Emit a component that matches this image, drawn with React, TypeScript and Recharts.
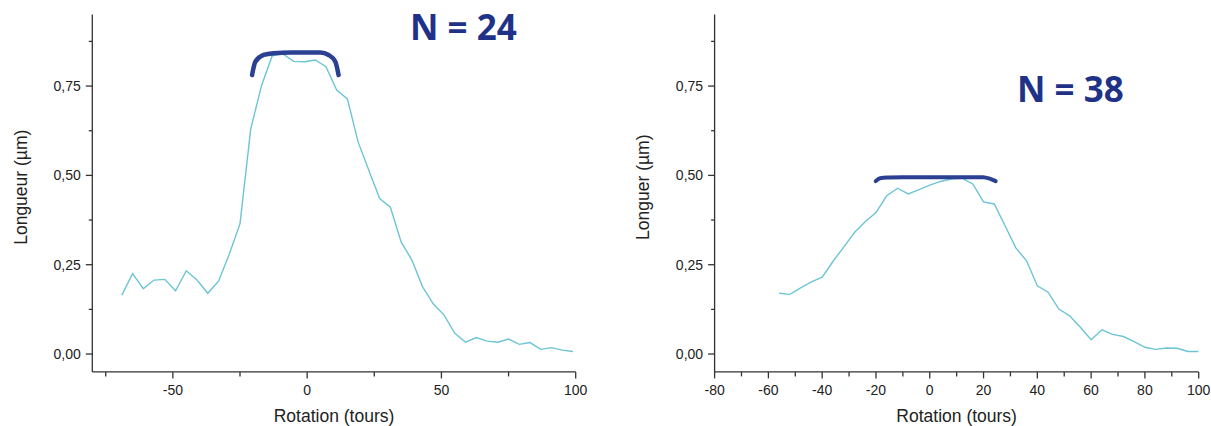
import React from 'react';
import { LineChart, Line, XAxis, YAxis, Label } from 'recharts';

// ---------- Data ----------
const leftRotation = [-69, -65, -61, -57, -53, -49, -45, -41, -37, -33, -29, -25, -21, -17, -13, -9, -5, -1, 3, 7, 11, 15, 19, 23, 27, 31, 35, 39, 43, 47, 51, 55, 59, 63, 67, 71, 75, 79, 83, 87, 91, 95, 99];
const leftLength = [0.165, 0.225, 0.183, 0.207, 0.209, 0.177, 0.233, 0.207, 0.170, 0.204, 0.279, 0.365, 0.630, 0.751, 0.835, 0.840, 0.819, 0.818, 0.823, 0.804, 0.739, 0.714, 0.593, 0.514, 0.435, 0.411, 0.314, 0.263, 0.188, 0.140, 0.109, 0.058, 0.033, 0.046, 0.036, 0.033, 0.042, 0.027, 0.032, 0.013, 0.018, 0.011, 0.007];

const rightRotation = [-56, -52, -48, -44, -40, -36, -32, -28, -24, -20, -16, -12, -8, -4, 0, 4, 8, 12, 16, 20, 24, 28, 32, 36, 40, 44, 48, 52, 56, 60, 64, 68, 72, 76, 80, 84, 88, 92, 96, 100];
const rightLength = [0.170, 0.167, 0.185, 0.202, 0.215, 0.259, 0.299, 0.340, 0.370, 0.396, 0.443, 0.464, 0.448, 0.460, 0.473, 0.483, 0.490, 0.492, 0.476, 0.426, 0.420, 0.359, 0.297, 0.261, 0.191, 0.173, 0.126, 0.107, 0.075, 0.040, 0.068, 0.055, 0.049, 0.035, 0.019, 0.013, 0.017, 0.016, 0.007, 0.007];

// hand-drawn plateau brackets
const leftArcX = [-20.5, -19.3, -16.2, -12.5, -6.2, 4.9, 8.0, 10.5, 11.7];
const leftArcY = [0.781, 0.818, 0.837, 0.842, 0.844, 0.844, 0.837, 0.818, 0.781];
const rightArcX = [-20.1, -18.5, -15, -10, 0, 10, 19.8, 22.3, 24.5];
const rightArcY = [0.484, 0.492, 0.494, 0.495, 0.495, 0.495, 0.495, 0.491, 0.484];

const leftXTicks = [-75, -50, -25, 0, 25, 50, 75, 100];
const leftXMajor = [-50, 0, 50, 100];
const rightXTicks = [-80, -70, -60, -50, -40, -30, -20, -10, 0, 10, 20, 30, 40, 50, 60, 70, 80, 90, 100];
const rightXMajor = [-80, -60, -40, -20, 0, 20, 40, 60, 80, 100];
const yTicks = [0, 0.125, 0.25, 0.375, 0.5, 0.625, 0.75, 0.875];
const yMajor = [0, 0.25, 0.5, 0.75];

const leftTitle = 'N = 24';
const rightTitle = 'N = 38';
const xTitle = 'Rotation (tours)';
const leftYTitle = 'Longueur (µm)';
const rightYTitle = 'Longuer (µm)';

const zip = (xs: number[], ys: number[]) => xs.map((x, i) => ({ x, y: ys[i] }));

const AXIS = '#333333';
const TICK_TXT = '#222222';
const FONT = '"Liberation Sans", Arial, sans-serif';
const LINE = '#6cc5d4';
const NAVY = '#2b3f93';

const makeXTick = (majors: number[]) => (props: any) => {
  const { x, y, payload } = props;
  const v = payload.value;
  const major = majors.includes(v);
  return (
    <g>
      <line x1={x} y1={y} x2={x} y2={y + (major ? 6.5 : 4.5)} stroke={AXIS} strokeWidth={1.3} />
      {major && (
        <text x={x} y={y + 23} textAnchor="middle" fontSize={14} fontFamily={FONT} fill={TICK_TXT}>
          {String(v)}
        </text>
      )}
    </g>
  );
};

const YTick = (props: any) => {
  const { x, y, payload } = props;
  const v = payload.value;
  const major = yMajor.includes(v);
  return (
    <g>
      <line x1={x} y1={y} x2={x - (major ? 6.5 : 3.5)} y2={y} stroke={AXIS} strokeWidth={1.3} />
      {major && (
        <text x={x - 11.5} y={y} dy="0.36em" textAnchor="end" fontSize={14} fontFamily={FONT} fill={TICK_TXT}>
          {v.toFixed(2).replace('.', ',')}
        </text>
      )}
    </g>
  );
};

const yTitleContent = (text: string) => (props: any) => {
  const vb = props.viewBox || {};
  const cx = vb.x - 11.5;
  const cy = vb.y + vb.height / 2 - 6;
  return (
    <text
      x={cx}
      y={cy}
      textAnchor="middle"
      dominantBaseline="central"
      transform={`rotate(-90, ${cx}, ${cy})`}
      fontSize={17.5}
      fontFamily={FONT}
      fill={TICK_TXT}
    >
      {text}
    </text>
  );
};

const xTitleContent = (text: string) => (props: any) => {
  const vb = props.viewBox || {};
  return (
    <text x={vb.x + vb.width / 2} y={vb.y + 50} textAnchor="middle" fontSize={17.5} fontFamily={FONT} fill={TICK_TXT}>
      {text}
    </text>
  );
};

type PanelProps = {
  left: number;
  marginLeft: number;
  marginRight: number;
  data: { x: number; y: number }[];
  arc: { x: number; y: number }[];
  xTicks: number[];
  xMajor: number[];
  yTitle: string;
  nText: string;
  nX: number;
  nY: number;
  arcWidth: number;
};

const W = 605;
const H = 426;

const Panel = (p: PanelProps) => (
  <div style={{ position: 'absolute', left: p.left, top: 0, width: W, height: H }}>
    <LineChart
      width={W}
      height={H}
      margin={{ top: 14.6, bottom: 24.1, left: p.marginLeft, right: p.marginRight }}
    >
      <XAxis
        dataKey="x"
        type="number"
        domain={[p.xTicks[0] < -79 ? -80 : -80, 100]}
        ticks={p.xTicks}
        interval={0}
        tickSize={0}
        tickMargin={0}
        tickLine={false}
        tick={makeXTick(p.xMajor)}
        axisLine={{ stroke: AXIS, strokeWidth: 1.3 }}
        height={30}
        allowDataOverflow
      >
        <Label content={xTitleContent(xTitle)} />
      </XAxis>
      <YAxis
        dataKey="y"
        type="number"
        domain={[-0.05, 0.95]}
        ticks={yTicks}
        interval={0}
        tickSize={0}
        tickMargin={0}
        tickLine={false}
        tick={YTick}
        axisLine={{ stroke: AXIS, strokeWidth: 1.3 }}
        width={60}
        allowDataOverflow
      >
        <Label content={yTitleContent(p.yTitle)} />
      </YAxis>
      <Line
        data={p.data}
        dataKey="y"
        type="linear"
        stroke={LINE}
        strokeWidth={1.4}
        dot={false}
        activeDot={false}
        isAnimationActive={false}
      />
      <Line
        data={p.arc}
        dataKey="y"
        type="monotone"
        stroke={NAVY}
        strokeWidth={p.arcWidth}
        strokeLinecap="round"
        dot={false}
        activeDot={false}
        isAnimationActive={false}
      />
    </LineChart>
    <svg style={{ position: 'absolute', left: 0, top: 0, pointerEvents: 'none' }} width={W} height={H}>
      <text x={p.nX} y={p.nY} fontSize={35} fontWeight={700} fontFamily='"Open Sans", sans-serif' fill="#1f3288">
        {p.nText}
      </text>
    </svg>
  </div>
);

export default function App() {
  return (
    <div style={{ position: 'absolute', left: 0, top: 0, width: 1211, height: 426, background: '#fff', overflow: 'hidden' }}>
      <Panel
        left={0}
        marginLeft={32.3}
        marginRight={29.3}
        data={zip(leftRotation, leftLength)}
        arc={zip(leftArcX, leftArcY)}
        xTicks={leftXTicks}
        xMajor={leftXMajor}
        yTitle={leftYTitle}
        nText={leftTitle}
        nX={410}
        nY={39.5}
        arcWidth={4.5}
      />
      <Panel
        left={606}
        marginLeft={48.6}
        marginRight={12.3}
        data={zip(rightRotation, rightLength)}
        arc={zip(rightArcX, rightArcY)}
        xTicks={rightXTicks}
        xMajor={rightXMajor}
        yTitle={rightYTitle}
        nText={rightTitle}
        nX={411}
        nY={101.7}
        arcWidth={4}
      />
    </div>
  );
}
